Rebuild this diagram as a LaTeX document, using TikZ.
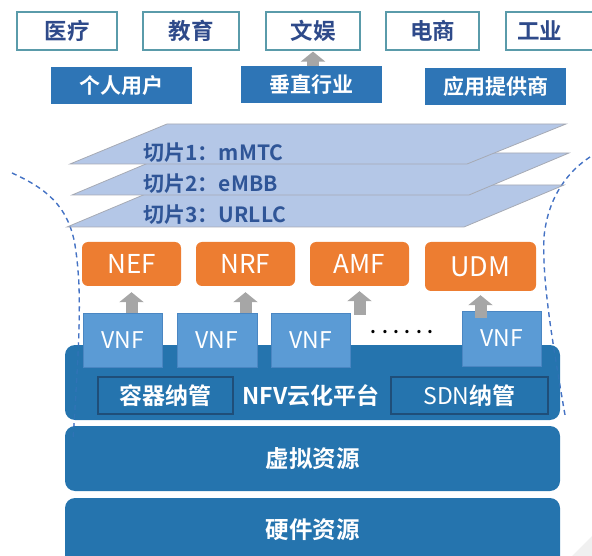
\documentclass[tikz,border=0pt]{standalone}
\usepackage{fontspec}
\setmainfont{Noto Sans CJK SC}[BoldFont={Noto Sans CJK SC Bold}]
\usetikzlibrary{arrows.meta}

\definecolor{navytext}{HTML}{2E4A8A}
\definecolor{fieldline}{HTML}{5A9BAA}
\definecolor{userblue}{HTML}{2E75B6}
\definecolor{slicefill}{HTML}{B4C7E7}
\definecolor{sliceline}{HTML}{A6AAB4}
\definecolor{slicetext}{HTML}{2F5597}
\definecolor{nforange}{HTML}{ED7D31}
\definecolor{vnfblue}{HTML}{5B9BD5}
\definecolor{vnfline}{HTML}{4A86C2}
\definecolor{platblue}{HTML}{2574AE}
\definecolor{platline}{HTML}{1F4E79}
\definecolor{arrowgray}{HTML}{A6A6A6}
\definecolor{guideblue}{HTML}{4472C4}

\tikzset{
  field/.style={draw=fieldline,line width=1.2pt,fill=white,minimum height=38pt,
    text=navytext,font=\fontsize{22.5}{22.5}\selectfont\bfseries},
  usergroup/.style={fill=userblue,minimum width=141pt,minimum height=37pt,
    text=white,font=\fontsize{21}{21}\selectfont\bfseries},
  slicetag/.style={anchor=west,text=slicetext,font=\fontsize{21}{21}\selectfont\bfseries},
  nfbox/.style={fill=nforange,rounded corners=6pt,minimum width=99pt,minimum height=44pt,
    text=white,font=\fontsize{26}{26}\selectfont},
  vnfbox/.style={fill=vnfblue,draw=vnfline,line width=.8pt,minimum width=79pt,minimum height=54pt,
    text=white,font=\fontsize{23}{23}\selectfont},
  layer/.style={fill=platblue,rounded corners=10pt,minimum width=495pt,
    text=white,font=\fontsize{23.5}{23.5}\selectfont\bfseries},
  mgmt/.style={draw=platline,line width=1.2pt,minimum height=37pt,
    text=white,font=\fontsize{23}{23}\selectfont},
  garrow/.style={draw=arrowgray,line width=12pt,-{Triangle[width=24pt,length=10pt]}},
  guide/.style={guideblue,line width=1.3pt,dash pattern=on 5pt off 4pt}
}

\begin{document}
\begin{tikzpicture}[x=1pt,y=-1pt]
\useasboundingbox (0,0) rectangle (592,556);

% slide corner
\fill[gray!12] (572,556) -- (592,536) -- (592,556) -- cycle;

% dashed outline
\draw[guide] (12,173) .. controls (45,188) and (68,205) .. (75,245)
  .. controls (82,290) and (80,330) .. (73,440);
\draw[guide] (590,157) .. controls (570,170) and (548,195) .. (544,237)
  .. controls (542,280) and (552,340) .. (565,415);

% application fields
\node[field,minimum width=100pt] (yiliao) at (67,31) {医疗};
\node[field,minimum width=96pt] (jiaoyu) at (191,31) {教育};
\node[field,minimum width=94pt] (wenyu) at (313,31) {文娱};
\node[field,minimum width=93pt] (dianshang) at (432.5,31) {电商};
\node[field,minimum width=88pt,text width=66pt,align=left] (gongye) at (550,31) {工业};

\node[usergroup] (geren) at (121.5,85.5) {个人用户};
\node[usergroup] (chuizhi) at (311,85) {垂直行业};
\node[usergroup] (yingyong) at (495.5,86.5) {应用提供商};

\draw[garrow,shorten >=1pt] (wenyu.south |- chuizhi.north) -- (wenyu.south);

% slices
\draw[sliceline,fill=slicefill,line width=.8pt] (167,185) -- (564,185) -- (464,227) -- (67,227) -- cycle;
\draw[sliceline,fill=slicefill,line width=.8pt] (172,153) -- (569,153) -- (469,195) -- (72,195) -- cycle;
\draw[sliceline,fill=slicefill,line width=.8pt] (167,124) -- (566,124) -- (467,164) -- (70,164) -- cycle;
\node[slicetag] (slice1) at (140,153) {切片1：mMTC};
\node[slicetag] (slice2) at (140,184) {切片2：eMBB};
\node[slicetag] (slice3) at (140,215) {切片3：URLLC};

% NFV platform and resources
\node[layer,minimum height=75pt] (nfv) at (312.5,382.5) {};
\node[text=white,font=\fontsize{23}{23}\selectfont\bfseries] (nfvtag) at (311,396) {NFV云化平台};
\node[mgmt,minimum width=135pt,font=\fontsize{23}{23}\selectfont\bfseries] (rongqi) at (165.5,395.5) {容器纳管};
\node[mgmt,minimum width=157pt] (sdn) at (469.5,395.5) {SDN{\bfseries 纳管}};
\node[layer,minimum height=65pt] (xuni) at (312.5,458.5) {虚拟资源};
\node[layer,minimum height=68pt,text depth=0pt] (yingjian) at (312.5,532) {};
\node[text=white,font=\fontsize{23.5}{23.5}\selectfont\bfseries] (yingjiantag) at (312.5,530) {硬件资源};

% network functions
\node[nfbox] (nef) at (131.5,264) {NEF};
\node[nfbox] (nrf) at (245.5,264) {NRF};
\node[nfbox] (amf) at (359.5,264) {AMF};
\node[nfbox,minimum width=111pt,minimum height=49pt,font=\fontsize{27}{27}\selectfont] (udm) at (480.5,266.5) {UDM};

\node[vnfbox] (vnf1) at (122.5,340) {VNF};
\node[vnfbox,minimum width=80pt] (vnf2) at (217,340) {VNF};
\node[vnfbox] (vnf3) at (310.5,340) {VNF};
\node[vnfbox,minimum height=55pt] (vnf4) at (501.5,338.5) {VNF};
\node[font=\fontsize{18}{18}\selectfont\bfseries] (dots) at (402,332) {. . . . . .};

\draw[garrow,shorten >=6pt] (nef.south |- vnf1.north) -- (nef.south);
\draw[garrow,shorten >=6pt] (nrf.south |- vnf2.north) -- (nrf.south);
\draw[garrow,shorten >=5pt,shorten <=-2pt] (amf.south |- vnf3.north) -- (amf.south);
\draw[garrow,shorten >=4pt,shorten <=-7pt] (udm.south |- vnf4.north) -- (udm.south);

% outline seen through the platform
\begin{scope}[opacity=.35]
\draw[guide] (12,173) .. controls (45,188) and (68,205) .. (75,245)
  .. controls (82,290) and (80,330) .. (73,440);
\draw[guide] (590,157) .. controls (570,170) and (548,195) .. (544,237)
  .. controls (542,280) and (552,340) .. (565,415);
\end{scope}
\end{tikzpicture}
\end{document}
